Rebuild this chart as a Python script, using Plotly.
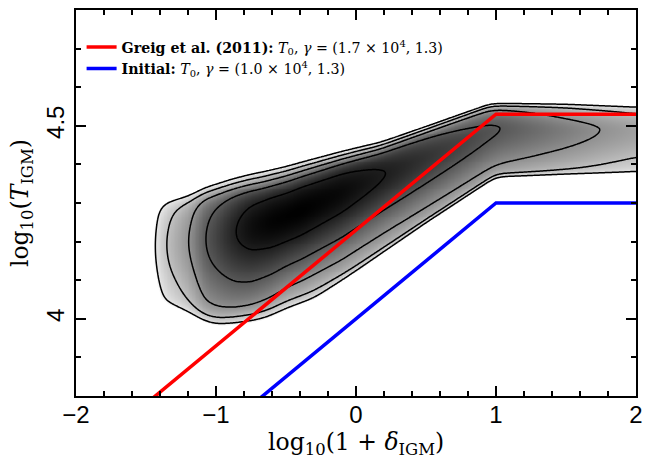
import numpy as np
import plotly.graph_objects as go

# ---------------- data ----------------
# ridge (peak) amplitude of the log-density along x  (contour levels are -4..0)
amp_x = [-1.62, -1.44, -1.36, -1.19, -1.08, -0.86, -0.75, -0.6, -0.4, -0.1, 0.21, 1.03, 1.74, 2.1]
amp_v = [-8.0, -4.0, -3.0, -2.0, -1.0, 0.0, 0.35, 0.55, 0.6, 0.42, 0.0, -1.0, -2.0, -2.45]
# ridge position (log10 T) along x
ridge_x = [-1.6, -1.0, -0.5, 0.0, 0.5, 1.0, 1.5, 2.1]
ridge_y = [4.18, 4.21, 4.265, 4.345, 4.42, 4.495, 4.49, 4.49]
# upper envelope (sharp edge) and its softness
top_x = [-1.6, -1.2, -0.9, -0.65, 0.17, 0.96, 1.5, 2.1]
top_y = [4.30, 4.305, 4.325, 4.338, 4.43, 4.548, 4.552, 4.549]
top_soft = [0.012, 0.012, 0.013, 0.0144, 0.009, 0.006, 0.006, 0.006]
# lower envelope and its softness
bot_x = [-1.6, -1.3, -1.0, -0.65, -0.3, 0.0, 0.5, 1.0, 1.5, 2.1]
bot_y = [4.035, 4.03, 4.005, 4.02, 4.06, 4.13, 4.255, 4.375, 4.378, 4.378]
bot_soft = [0.012, 0.012, 0.013, 0.015, 0.012, 0.008, 0.006, 0.006, 0.006, 0.006]
# width factor of the upper / lower side of the ridge
wid_x = [-1.6, -1.1, -0.8, -0.5, 0.0, 1.0, 2.1]
wid_up = [1.8, 1.8, 1.3, 1.0, 1.0, 0.6, 0.6]
wid_dn = [1.8, 1.8, 1.3, 1.0, 1.0, 1.0, 1.0]
levels = [-4, -3, -2, -1, 0]

# equation-of-state lines (vertices)
red_x = [-2.0, 1.0, 2.0]
red_y = [3.63, 4.53, 4.53]
blue_x = [-2.0, 1.0, 2.0]
blue_y = [3.40, 4.30, 4.30]

x_ticks = [-2, -1, 0, 1, 2]
y_ticks = [4.0, 4.5]
y_tick_text = ["4", "4.5"]

# ---------------- build density field ----------------
X = np.linspace(-2.0, 2.0, 401)
Y = np.linspace(3.8, 4.8, 401)


def prof(nx, nv, width=0.06):
    v = np.interp(X, nx, nv)
    dx = X[1] - X[0]
    n = 30
    k = np.exp(-0.5 * (np.arange(-n, n + 1) * dx / width) ** 2)
    k /= k.sum()
    vp = np.pad(v, n, mode="edge")
    return np.convolve(vp, k, mode="valid")


A = prof(amp_x, amp_v, 0.03)[None, :]
C = prof(ridge_x, ridge_y)[None, :]
T = prof(top_x, top_y, 0.04)[None, :]
ET = prof(top_x, top_soft)[None, :]
B = prof(bot_x, bot_y, 0.04)[None, :]
EB = prof(bot_x, bot_soft)[None, :]
WU = prof(wid_x, wid_up)[None, :]
WD = prof(wid_x, wid_dn)[None, :]
Yg = Y[:, None]
dy = Yg - C
W = np.where(dy > 0, WU, WD)
b, lam = 0.05, 0.055
D = (np.sqrt(b ** 2 + (dy / W) ** 2) - b) / lam


def logsig(t):
    return -np.logaddexp(0.0, -t)


L = A - D + logsig((T - Yg) / ET) + logsig((Yg - B) / EB)
L = np.maximum(L, -8)

zmin, zmax = -4.3, 0.6
pts = [(-4.3, 255), (-4.0, 230), (-3.0, 192), (-2.0, 145), (-1.0, 88), (0.0, 30), (0.6, 0)]
cs = [[(v - zmin) / (zmax - zmin), f"rgb({g},{g},{g})"] for v, g in pts]

fig = go.Figure()
fig.add_trace(go.Contour(
    x=X, y=Y, z=L, zmin=zmin, zmax=zmax, colorscale=cs, showscale=False,
    autocontour=False,
    contours=dict(start=levels[0], end=levels[-1], size=1, coloring="heatmap"),
    line=dict(color="black", width=1.5), hoverinfo="skip", showlegend=False))

fig.add_trace(go.Scatter(
    x=red_x, y=red_y, mode="lines", line=dict(color="#ff0000", width=3.5),
    name="<b>Greig et al. (2011):</b> <i>T</i><sub>0</sub>, <i>γ</i> = (1.7 × 10<sup>4</sup>, 1.3)"))
fig.add_trace(go.Scatter(
    x=blue_x, y=blue_y, mode="lines", line=dict(color="#0000ff", width=3.5),
    name="<b>Initial:</b> <i>T</i><sub>0</sub>, <i>γ</i> = (1.0 × 10<sup>4</sup>, 1.3)"))

axis_common = dict(showline=True, linecolor="black", linewidth=2, mirror="ticks",
                   ticks="inside", tickcolor="black", tickwidth=1.5, ticklen=10,
                   showgrid=False, zeroline=False, automargin=False,
                   tickfont=dict(family="Liberation Sans, Arial", size=24, color="black"))
fig.update_xaxes(range=[-2, 2], tickvals=x_ticks, ticklabelstandoff=-4,
                 minor=dict(dtick=0.2, ticks="inside", ticklen=5, tickcolor="black", tickwidth=1.5),
                 **axis_common)
fig.update_yaxes(range=[3.8, 4.8], tickvals=y_ticks, ticktext=y_tick_text, tickangle=-90,
                 minor=dict(dtick=0.1, ticks="inside", ticklen=5, tickcolor="black", tickwidth=1.5),
                 **axis_common)

title_font = dict(family="DejaVu Serif", size=23.5, color="black")
fig.add_annotation(text="log<sub>10</sub>(1 + <i>δ</i><sub>IGM</sub>)", xref="paper", yref="paper",
                   x=0.5, y=-0.123, xanchor="center", yanchor="middle", showarrow=False,
                   font=title_font)
fig.add_annotation(text="log<sub>10</sub>(<i>T</i><sub>IGM</sub>)", xref="paper", yref="paper",
                   x=-0.098, y=0.5, xanchor="center", yanchor="middle", showarrow=False,
                   textangle=-90, font=title_font)

fig.update_layout(
    width=651, height=460,
    margin=dict(l=76, r=15, t=10, b=64),
    plot_bgcolor="white", paper_bgcolor="white",
    legend=dict(x=0.01, y=0.945, xanchor="left", yanchor="top", bgcolor="rgba(0,0,0,0)",
                font=dict(family="DejaVu Serif", size=14.2, color="black"), itemwidth=30,
                tracegroupgap=0),
)

fig.write_html("out.html", config={"displayModeBar": False},
               post_script="document.body.style.margin='0';document.body.style.overflow='hidden';")
